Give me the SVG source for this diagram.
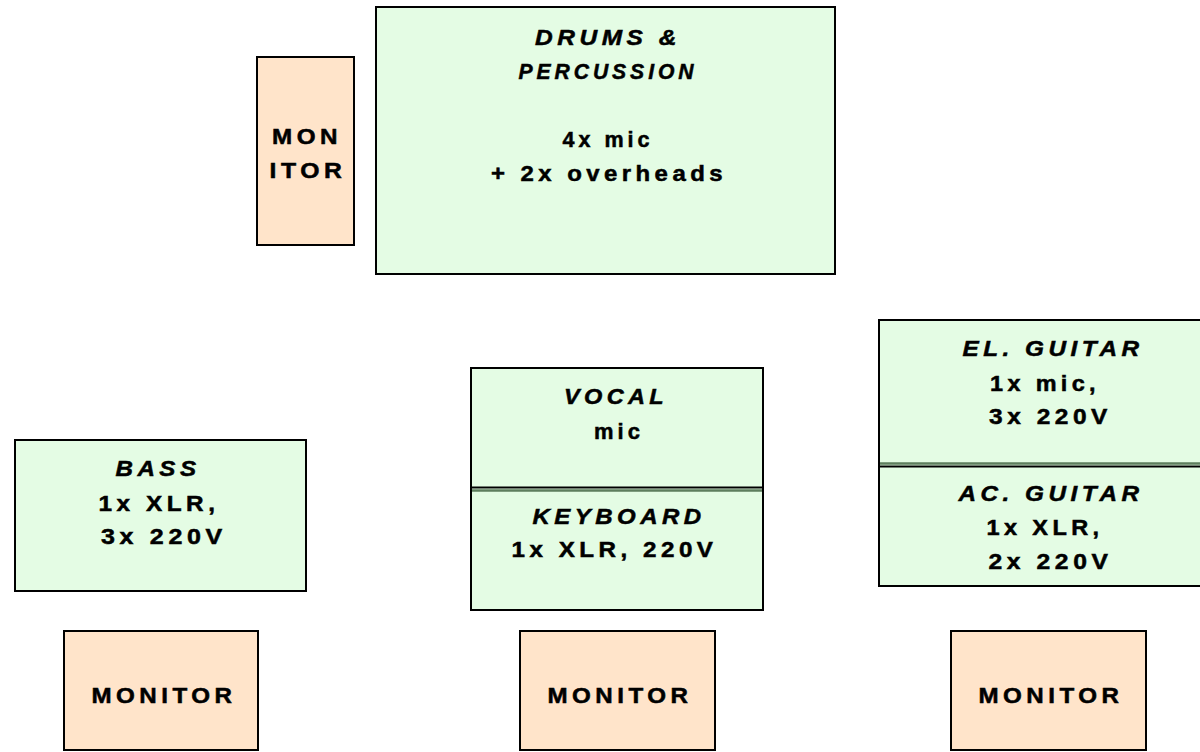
<svg xmlns="http://www.w3.org/2000/svg" width="1200" height="752" viewBox="0 0 1200 752">
<style>
.g{fill:#E4FCE4;stroke:#000;stroke-width:2}
.p{fill:#FFE4CA;stroke:#000;stroke-width:2}
text{font-family:"Liberation Sans",Arial,sans-serif;font-weight:bold;font-size:21.5px;letter-spacing:4px;fill:#000;stroke:#000;stroke-width:0.5;text-anchor:middle}
.i{font-style:italic}
.dk{stroke:#000;stroke-width:2}
.dg{stroke:#5E7E5E;stroke-width:2.5}
</style>
<rect width="1200" height="752" fill="#fff"/>
<g id="connectors"></g>
<g id="drums">
<rect class="g" x="376" y="7" width="459" height="267"/>
<text class="i" x="608" y="45" textLength="146" lengthAdjust="spacingAndGlyphs">DRUMS &amp;</text>
<text class="i" x="608" y="79" textLength="179" lengthAdjust="spacingAndGlyphs">PERCUSSION</text>
<text x="608" y="147" textLength="91" lengthAdjust="spacingAndGlyphs">4x mic</text>
<text x="609" y="181" textLength="236" lengthAdjust="spacingAndGlyphs">+ 2x overheads</text>
</g>
<g id="monitor-drums">
<rect class="p" x="257" y="57" width="97" height="188"/>
<text x="307" y="144" textLength="70" lengthAdjust="spacingAndGlyphs">MON</text>
<text x="308" y="178" textLength="77" lengthAdjust="spacingAndGlyphs">ITOR</text>
</g>
<g id="bass">
<rect class="g" x="15" y="440" width="291" height="151"/>
<text class="i" x="158" y="476" textLength="85" lengthAdjust="spacingAndGlyphs">BASS</text>
<text x="159" y="511" textLength="121" lengthAdjust="spacingAndGlyphs">1x XLR,</text>
<text x="164" y="544" textLength="126" lengthAdjust="spacingAndGlyphs">3x 220V</text>
</g>
<g id="vocal-keyboard">
<rect class="g" x="471" y="368" width="292" height="242"/>
<line class="dk" x1="471" y1="487.5" x2="763" y2="487.5"/>
<line class="dg" x1="472" y1="490.5" x2="762" y2="490.5"/>
<text class="i" x="616" y="404" textLength="104" lengthAdjust="spacingAndGlyphs">VOCAL</text>
<text x="619" y="439" textLength="50" lengthAdjust="spacingAndGlyphs">mic</text>
<text class="i" x="619" y="524" textLength="173" lengthAdjust="spacingAndGlyphs">KEYBOARD</text>
<text x="614.5" y="557" textLength="206" lengthAdjust="spacingAndGlyphs">1x XLR, 220V</text>
</g>
<g id="guitars">
<rect class="g" x="879" y="320" width="340" height="266"/>
<line class="dg" x1="880" y1="463.5" x2="1200" y2="463.5"/>
<line class="dk" x1="879" y1="466.5" x2="1200" y2="466.5"/>
<text class="i" x="1053" y="356" textLength="181" lengthAdjust="spacingAndGlyphs">EL. GUITAR</text>
<text x="1045" y="391" textLength="110" lengthAdjust="spacingAndGlyphs">1x mic,</text>
<text x="1050.5" y="424" textLength="123" lengthAdjust="spacingAndGlyphs">3x 220V</text>
<text class="i" x="1051" y="501" textLength="185" lengthAdjust="spacingAndGlyphs">AC. GUITAR</text>
<text x="1045" y="535" textLength="117" lengthAdjust="spacingAndGlyphs">1x XLR,</text>
<text x="1050.5" y="569" textLength="124" lengthAdjust="spacingAndGlyphs">2x 220V</text>
</g>
<g id="monitor-1">
<rect class="p" x="64" y="631" width="194" height="119"/>
<text x="164" y="703" textLength="145" lengthAdjust="spacingAndGlyphs">MONITOR</text>
</g>
<g id="monitor-2">
<rect class="p" x="520" y="631" width="195" height="119"/>
<text x="620" y="703" textLength="145" lengthAdjust="spacingAndGlyphs">MONITOR</text>
</g>
<g id="monitor-3">
<rect class="p" x="951" y="631" width="195" height="119"/>
<text x="1051" y="703" textLength="145" lengthAdjust="spacingAndGlyphs">MONITOR</text>
</g>
</svg>
